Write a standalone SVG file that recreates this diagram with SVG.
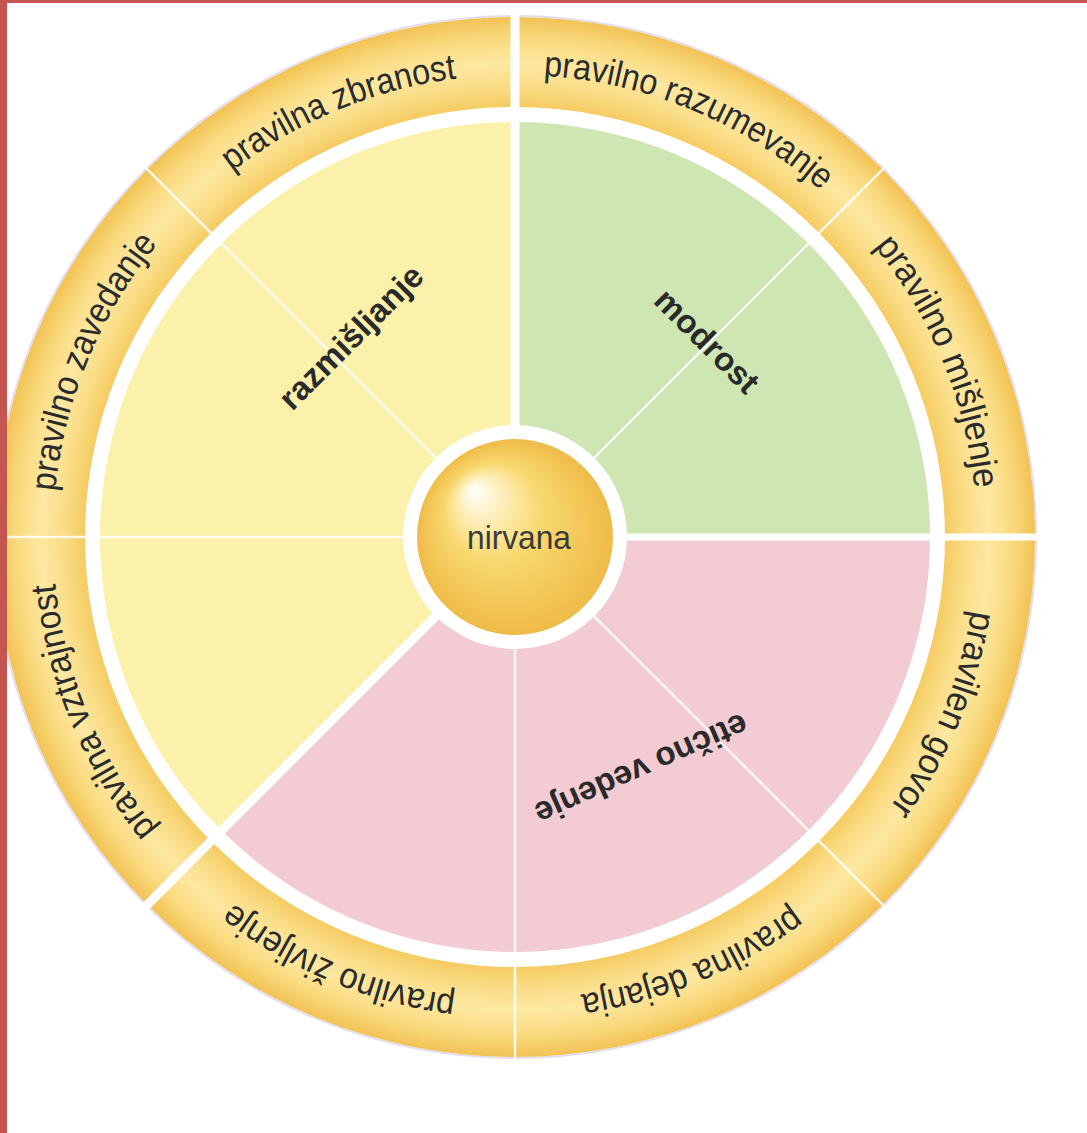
<svg xmlns="http://www.w3.org/2000/svg" width="1087" height="1133" viewBox="0 0 1087 1133">
  <style>
    .ring-label { font-family: "Liberation Sans", Arial, sans-serif; font-size: 36px; fill: #2b2b2b; }
    .sector-label { font-family: "Liberation Sans", Arial, sans-serif; font-size: 33px; font-weight: bold; fill: #2a2a2a; }
    .major { stroke: #ffffff; stroke-width: 9; }
    .minor { stroke: #ffffff; stroke-width: 2.5; stroke-opacity: 0.85; }
  </style>
  <defs>
    <radialGradient id="ringGrad" gradientUnits="userSpaceOnUse" cx="515" cy="537" r="520">
      <stop offset="0.82" stop-color="#f5c85c"/>
      <stop offset="0.86" stop-color="#f9da80"/>
      <stop offset="0.91" stop-color="#fde8a2"/>
      <stop offset="0.96" stop-color="#f9d97c"/>
      <stop offset="1" stop-color="#f2c254"/>
    </radialGradient>
    <radialGradient id="ballGrad" gradientUnits="userSpaceOnUse" cx="515" cy="537" r="98" fx="472" fy="488">
      <stop offset="0" stop-color="#ffffff"/>
      <stop offset="0.2" stop-color="#fdf0c0"/>
      <stop offset="0.5" stop-color="#f8d86e"/>
      <stop offset="1" stop-color="#efbb48"/>
    </radialGradient>
    <path id="p-zbranost" d="M174.38,224.88 A460,460 0 0 1 535.15,75.44"/>
    <path id="p-razumevanje" d="M494.85,75.44 A460,460 0 0 1 855.62,224.88"/>
    <path id="p-misljenje" d="M827.12,196.38 A460,460 0 0 1 976.56,557.15"/>
    <path id="p-govor" d="M976.56,516.85 A460,460 0 0 1 827.12,877.62"/>
    <path id="p-dejanja" d="M855.62,849.12 A460,460 0 0 1 494.85,998.56"/>
    <path id="p-zivljenje" d="M535.15,998.56 A460,460 0 0 1 174.38,849.12"/>
    <path id="p-vztrajnost" d="M202.88,877.62 A460,460 0 0 1 53.44,516.85"/>
    <path id="p-zavedanje" d="M53.44,557.15 A460,460 0 0 1 202.88,196.38"/>
  </defs>

  <rect x="0" y="0" width="1087" height="1133" fill="#ffffff"/>

  <g id="outer-ring">
    <circle cx="515" cy="537" r="521" fill="none" stroke="#d6cfe8" stroke-width="2" stroke-opacity="0.7"/>
    <circle cx="515" cy="537" r="520" fill="url(#ringGrad)"/>
    <circle cx="515" cy="537" r="430" fill="#ffffff"/>
  </g>

  <g id="sector-razmisljanje">
    <path d="M515,537 L221.55,830.45 A415,415 0 0 1 515,122 Z" fill="#fbf1aa"/>
  </g>
  <g id="sector-modrost">
    <path d="M515,537 L515,122 A415,415 0 0 1 930,537 Z" fill="#cde6b2"/>
  </g>
  <g id="sector-eticno-vedenje">
    <path d="M515,537 L930,537 A415,415 0 0 1 221.55,830.45 Z" fill="#f2ccd2"/>
  </g>

  <g id="separators">
    <line class="minor" x1="445.7" y1="467.7" x2="143.8" y2="165.8"/>
    <line class="minor" x1="417" y1="537" x2="-10" y2="537"/>
    <line class="minor" x1="584.3" y1="467.7" x2="886.2" y2="165.8"/>
    <line class="minor" x1="584.3" y1="606.3" x2="886.2" y2="908.2"/>
    <line class="minor" x1="515" y1="635" x2="515" y2="1062"/>
    <line class="major" x1="515" y1="439" x2="515" y2="12"/>
    <line class="major" x1="613" y1="537" x2="1040" y2="537" style="stroke-width:7"/>
    <line class="major" x1="445.7" y1="606.3" x2="143.8" y2="908.2"/>
  </g>

  <g id="ring-labels">
    <g id="seg-zbranost"><text class="ring-label"><textPath href="#p-zbranost" startOffset="50%" text-anchor="middle" textLength="246" lengthAdjust="spacingAndGlyphs">pravilna zbranost</textPath></text></g>
    <g id="seg-razumevanje"><text class="ring-label"><textPath href="#p-razumevanje" startOffset="50%" text-anchor="middle" textLength="306" lengthAdjust="spacingAndGlyphs">pravilno razumevanje</textPath></text></g>
    <g id="seg-misljenje"><text class="ring-label"><textPath href="#p-misljenje" startOffset="50%" text-anchor="middle" textLength="266" lengthAdjust="spacingAndGlyphs">pravilno mišljenje</textPath></text></g>
    <g id="seg-govor"><text class="ring-label"><textPath href="#p-govor" startOffset="50%" text-anchor="middle" textLength="216" lengthAdjust="spacingAndGlyphs">pravilen govor</textPath></text></g>
    <g id="seg-dejanja"><text class="ring-label"><textPath href="#p-dejanja" startOffset="50%" text-anchor="middle" textLength="232" lengthAdjust="spacingAndGlyphs">pravilna dejanja</textPath></text></g>
    <g id="seg-zivljenje"><text class="ring-label"><textPath href="#p-zivljenje" startOffset="50%" text-anchor="middle" textLength="244" lengthAdjust="spacingAndGlyphs">pravilno življenje</textPath></text></g>
    <g id="seg-vztrajnost"><text class="ring-label"><textPath href="#p-vztrajnost" startOffset="50%" text-anchor="middle" textLength="270" lengthAdjust="spacingAndGlyphs">pravilna vztrajnost</textPath></text></g>
    <g id="seg-zavedanje"><text class="ring-label"><textPath href="#p-zavedanje" startOffset="50%" text-anchor="middle" textLength="272" lengthAdjust="spacingAndGlyphs">pravilno zavedanje</textPath></text></g>
  </g>

  <g id="sector-labels">
    <text class="sector-label" x="0" y="0" text-anchor="middle" transform="translate(359,345) rotate(-45)">razmišljanje</text>
    <text class="sector-label" x="0" y="0" text-anchor="middle" transform="translate(699,349) rotate(45)">modrost</text>
    <text class="sector-label" x="0" y="0" text-anchor="middle" transform="translate(637,759) rotate(156)">etično vedenje</text>
  </g>

  <g id="nirvana">
    <circle cx="515" cy="537" r="112" fill="#ffffff"/>
    <circle cx="515" cy="537" r="98" fill="url(#ballGrad)"/>
    <text x="519" y="549" text-anchor="middle" font-family="Liberation Sans, Arial, sans-serif" font-size="33" fill="#3a3a3a" textLength="104" lengthAdjust="spacingAndGlyphs">nirvana</text>
  </g>

  <g id="border">
    <rect x="0" y="0" width="7" height="1133" fill="#c4564f"/>
    <rect x="0" y="0" width="1087" height="3" fill="#c4564f"/>
  </g>
</svg>
